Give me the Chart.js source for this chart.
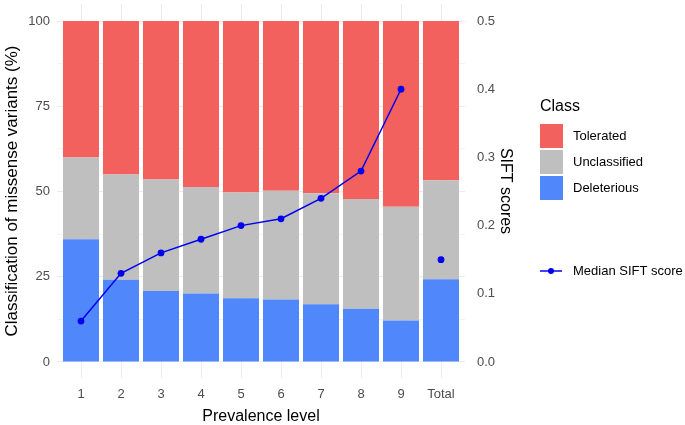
<!DOCTYPE html>
<html>
<head>
<meta charset="utf-8">
<script src="https://cdn.jsdelivr.net/npm/chart.js@4"></script>
<style>
  body { margin: 0; background: #fff; }
  canvas { display: block; }
</style>
</head>
<body>
<canvas id="chart" width="685" height="425"></canvas>
<script>
// data
const categories = ['1', '2', '3', '4', '5', '6', '7', '8', '9', 'Total'];
const deleterious = [36.0, 24.1, 20.8, 20.1, 18.7, 18.3, 16.9, 15.6, 12.2, 24.3];
const unclassified = [24.0, 30.9, 32.7, 31.2, 31.0, 31.9, 32.6, 32.2, 33.3, 29.0];
const tolerated = [40.0, 45.0, 46.5, 48.7, 50.3, 49.8, 50.5, 52.2, 54.5, 46.7];
const medianSift = [0.06, 0.13, 0.16, 0.18, 0.20, 0.21, 0.24, 0.28, 0.40];
const totalSift = [0.15];
const pctTicks = [0, 12.5, 25, 37.5, 50, 62.5, 75, 87.5, 100];
const siftTicks = [0, 0.1, 0.2, 0.3, 0.4, 0.5];

const RED = '#F2615D';
const GREY = '#BFBFBF';
const BLUE = '#5087FA';
const LINE = '#0000F0';
const FONT = 'Liberation Sans, Arial, sans-serif';

function barData(values) {
    return values.map((v, i) => ({ x: i + 1, y: v }));
}

function barSet(label, values, color) {
    return {
        type: 'bar',
        label: label,
        data: barData(values),
        backgroundColor: color,
        borderWidth: 0,
        barPercentage: 0.9,
        categoryPercentage: 1.0,
        yAxisID: 'y',
        order: 2,
    };
}

// no extra room for half tick labels, the panel edges are fixed
function noPad(s) {
    s.paddingTop = 0;
    s.paddingBottom = 0;
    s.paddingLeft = 0;
    s.paddingRight = 0;
}

// legend on the right, drawn like the ggplot guide
const sideLegend = {
    id: 'sideLegend',
    afterDraw(chart) {
        const ctx = chart.ctx;
        ctx.save();
        ctx.fillStyle = '#000';
        ctx.font = '16px ' + FONT;
        ctx.textBaseline = 'middle';
        ctx.textAlign = 'left';
        ctx.fillText('Class', 540, 107);
        const items = [['Tolerated', RED], ['Unclassified', GREY], ['Deleterious', BLUE]];
        ctx.font = '13px ' + FONT;
        items.forEach((it, i) => {
            const y = 124 + i * 26;
            ctx.fillStyle = it[1];
            ctx.fillRect(540, y, 23, 24);
            ctx.fillStyle = '#000';
            ctx.fillText(it[0], 573, y + 12);
        });
        ctx.strokeStyle = LINE;
        ctx.lineWidth = 1.5;
        ctx.beginPath();
        ctx.moveTo(540, 271);
        ctx.lineTo(562, 271);
        ctx.stroke();
        ctx.fillStyle = LINE;
        ctx.beginPath();
        ctx.arc(551, 271, 3, 0, Math.PI * 2);
        ctx.fill();
        ctx.fillStyle = '#000';
        ctx.fillText('Median SIFT score', 573, 271);
        ctx.restore();
    }
};

new Chart(document.getElementById('chart'), {
    data: {
        datasets: [
            barSet('Deleterious', deleterious, BLUE),
            barSet('Unclassified', unclassified, GREY),
            barSet('Tolerated', tolerated, RED),
            {
                type: 'line',
                label: 'Median SIFT score',
                data: medianSift.map((v, i) => ({ x: i + 1, y: v })),
                borderColor: LINE,
                backgroundColor: LINE,
                borderWidth: 1.5,
                pointRadius: 3.4,
                pointBorderWidth: 0,
                yAxisID: 'y2',
                order: 1,
            },
            {
                type: 'line',
                label: 'Total',
                data: totalSift.map(v => ({ x: categories.length, y: v })),
                showLine: false,
                borderColor: LINE,
                backgroundColor: LINE,
                pointRadius: 3.4,
                pointBorderWidth: 0,
                yAxisID: 'y2',
                order: 1,
            },
        ],
    },
    options: {
        responsive: false,
        animation: false,
        layout: { padding: { top: 3, left: 0, right: 168, bottom: 0 } },
        plugins: {
            legend: { display: false },
            tooltip: { enabled: false },
        },
        scales: {
            x: {
                type: 'linear',
                stacked: true,
                offset: false,
                min: 0.4,
                max: 10.6,
                afterBuildTicks: (s) => { s.ticks = categories.map((c, i) => ({ value: i + 1 })); },
                afterFit: (s) => { s.height = 47; noPad(s); },
                ticks: {
                    callback: (v) => categories[v - 1],
                    color: '#4D4D4D',
                    font: { family: FONT, size: 13 },
                    padding: 9,
                    maxRotation: 0,
                },
                grid: { color: '#EBEBEB', lineWidth: 1, drawTicks: false, offset: false },
                border: { display: false },
                title: {
                    display: true,
                    text: 'Prevalence level',
                    color: '#000',
                    font: { family: FONT, size: 16, lineHeight: 1 },
                    padding: { top: 0, bottom: 0 },
                },
            },
            y: {
                type: 'linear',
                position: 'left',
                stacked: true,
                min: -4.7,
                max: 105,
                afterBuildTicks: (s) => { s.ticks = pctTicks.map(v => ({ value: v })); },
                afterFit: (s) => { s.width = 57; noPad(s); },
                ticks: {
                    callback: (v) => (v % 25 === 0 ? String(v) : ''),
                    color: '#4D4D4D',
                    font: { family: FONT, size: 13 },
                    padding: 7,
                },
                grid: {
                    color: (c) => (c.tick && c.tick.value % 25 === 0 ? '#EBEBEB' : '#F3F3F3'),
                    lineWidth: 1,
                    drawTicks: false,
                },
                border: { display: false },
                title: {
                    display: true,
                    text: 'Classification of missense variants (%)',
                    color: '#000',
                    font: { family: FONT, size: 17, lineHeight: 1.2 },
                    padding: { top: 2, bottom: 0 },
                },
            },
            y2: {
                type: 'linear',
                position: 'right',
                min: -0.0235,
                max: 0.525,
                afterBuildTicks: (s) => { s.ticks = siftTicks.map(v => ({ value: v })); },
                afterFit: (s) => { s.width = 52; noPad(s); },
                ticks: {
                    callback: (v) => v.toFixed(1),
                    color: '#4D4D4D',
                    font: { family: FONT, size: 13 },
                    padding: 12,
                },
                grid: { display: false, drawTicks: false },
                border: { display: false },
                title: {
                    display: true,
                    text: 'SIFT scores',
                    color: '#000',
                    font: { family: FONT, size: 16, lineHeight: 1.2 },
                    padding: { top: 2, bottom: 0 },
                },
            },
        },
    },
    plugins: [sideLegend],
});
</script>
</body>
</html>
